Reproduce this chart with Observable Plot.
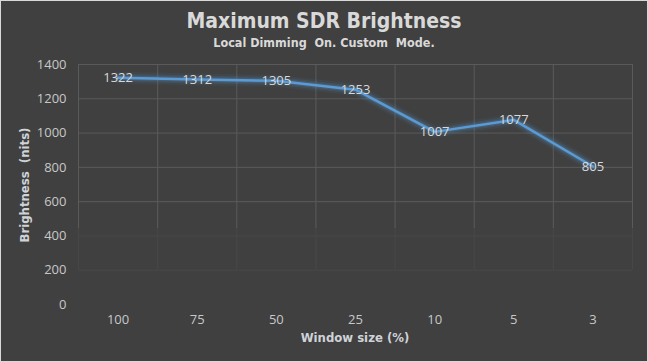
<!DOCTYPE html>
<html>
<head>
<meta charset="utf-8">
<script src="https://cdn.jsdelivr.net/npm/d3@7"></script>
<script src="https://cdn.jsdelivr.net/npm/@observablehq/plot@0.6"></script>
<style>
  html, body { margin: 0; padding: 0; background: #404040; }
  #wrap { position: relative; width: 648px; height: 362px; overflow: hidden; background: #404040; }
  #frame { position: absolute; left: 0; top: 0; width: 648px; height: 362px; box-sizing: border-box; border: 1px solid #d9d9d9; pointer-events: none; }
  .t { position: absolute; font-family: "DejaVu Sans Condensed", "DejaVu Sans", sans-serif; font-stretch: condensed; font-weight: bold; color: #d9d9d9; white-space: nowrap; }
  #title { left: 0; width: 648px; top: 9px; text-align: center; font-size: 21px; }
  #subtitle { left: 0; width: 648px; top: 35px; text-align: center; font-size: 12.5px; }
  #xlabel { left: 78px; width: 554px; top: 330px; text-align: center; font-size: 13px; color: #cfd3d8; }
  #ylabel { left: 24px; top: 185px; font-size: 13px; color: #cfd3d8; transform: translate(-50%, -50%) rotate(-90deg); }
  svg { position: absolute; left: 0; top: 0; }
</style>
</head>
<body>
<div id="wrap">
  <div id="chart"></div>
  <div class="t" id="title">Maximum SDR Brightness</div>
  <div class="t" id="subtitle">Local Dimming&nbsp; On. Custom&nbsp; Mode.</div>
  <div class="t" id="xlabel">Window size (%)</div>
  <div class="t" id="ylabel">Brightness&nbsp; (nits)</div>
  <div id="frame"></div>
</div>
<script>
const categories = ["100", "75", "50", "25", "10", "5", "3"];
const brightness = [1322, 1312, 1305, 1253, 1007, 1077, 805];
const yTicks = [0, 200, 400, 600, 800, 1000, 1200, 1400];

const data = categories.map((c, i) => ({i, c, v: brightness[i]}));
const bounds = d3.range(categories.length + 1).map(k => k - 0.5);
const strongY = yTicks.filter(t => t >= 600);
const faintY = yTicks.filter(t => t > 0 && t < 600);
const fadeAt = 443;

const lineColor = "#5b9bd5";

const chart = Plot.plot({
  width: 648,
  height: 362,
  marginLeft: 78,
  marginRight: 16,
  marginTop: 64,
  marginBottom: 58,
  style: {background: "transparent", color: "#c8c8c8", fontFamily: "'Open Sans', sans-serif", fontSize: "13px"},
  x: {domain: [-0.5, categories.length - 0.5], axis: null},
  y: {domain: [0, 1400], axis: null},
  marks: [
    Plot.ruleX(bounds, {x: d => d, y1: fadeAt, y2: 1400, stroke: "#5a5a5a", strokeWidth: 1}),
    Plot.ruleX(bounds, {x: d => d, y1: 200, y2: fadeAt, stroke: "#474747", strokeWidth: 1}),
    Plot.ruleY(strongY, {y: d => d, stroke: "#5a5a5a", strokeWidth: 1}),
    Plot.ruleY(faintY, {y: d => d, stroke: "#474747", strokeWidth: 1}),
    Plot.axisY(yTicks, {tickSize: 0, tickPadding: 12, tickFormat: d => String(d), fill: "#c8c8c8", fontSize: 13, label: null}),
    Plot.axisX(d3.range(categories.length), {tickSize: 0, tickPadding: 10, tickFormat: i => categories[i], fill: "#c8c8c8", fontSize: 13, label: null}),
    Plot.line(data, {x: "i", y: "v", stroke: lineColor, strokeWidth: 12, strokeOpacity: 0.07}),
    Plot.line(data, {x: "i", y: "v", stroke: lineColor, strokeWidth: 8, strokeOpacity: 0.12}),
    Plot.line(data, {x: "i", y: "v", stroke: lineColor, strokeWidth: 5, strokeOpacity: 0.18}),
    Plot.line(data, {x: "i", y: "v", stroke: lineColor, strokeWidth: 2.5}),
    Plot.text(data, {x: "i", y: "v", text: d => String(d.v), fill: "#d9d9d9", fontSize: 13, lineAnchor: "middle"})
  ]
});
document.getElementById("chart").appendChild(chart);
</script>
</body>
</html>
